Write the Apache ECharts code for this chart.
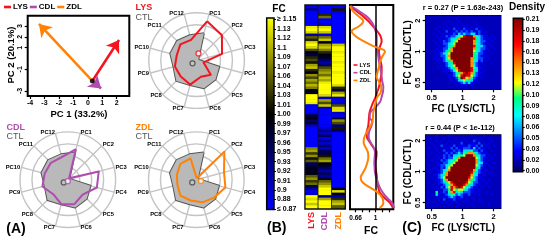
<!DOCTYPE html>
<html><head><meta charset="utf-8">
<style>html,body{margin:0;padding:0;background:#fff}#c{width:550px;height:241px}</style>
<script src="https://cdn.jsdelivr.net/npm/echarts@6/dist/echarts.min.js"></script>
</head><body><div id="c"></div>
<script>
const FONT = '"Liberation Sans", Arial, sans-serif';
const RED = '#f5141e', PURPLE = '#b04cb0', ORANGE = '#ff8205', DARK = '#555555', FILL = '#b9b9b9';

// PCA arrows (PC1, PC2)
const pcaOrigin = [0.31, -2.08];
const pcaLYS = [2.16, 1.71];
const pcaCDL = [0.92, -2.78];
const pcaZDL = [-3.38, 3.2];
const pcaXTicks = [-4, -3, -2, -1, 0, 1, 2];
const pcaYTicks = [3, 2, 1, -1, -3];

// radar values, fraction of the outer ring
const radarNames = ['PC1','PC2','PC3','PC4','PC5','PC6','PC7','PC8','PC9','PC10','PC11','PC12'];
const ctlRadar = [.59,.05,.05,.49,.56,.60,.53,.60,.50,.57,.58,.55];
const lysRadar = [.85,.75,.55,.15,.42,.35,.52,.47,.47,.43,.48,.45];
const cdlRadar = [.66,.04,.67,.63,.44,.53,.53,.43,.55,.50,.50,.49];
const zdlRadar = [.03,.83,.60,.63,.53,.49,.45,.47,.41,.42,.47,.46];
const ctlCentroid = [-.085,-.057];
const lysCentroid = [.04,.15];
const cdlCentroid = [0,-.03];
const zdlCentroid = [.098,-.027];

// fold-change heat map, 80 rows top to bottom
const fcLYS = [.88,.93,.87,.87,.87,.87,.88,.87,1.14,1.15,1.13,.92,1.06,1.03,1.13,1.15,1.13,1.05,1.0,.97,1.03,1.05,1.02,1.1,1.12,1.03,1.0,1.09,1.05,1.1,1.07,1.11,1.08,1.0,.99,1.15,1.15,1.15,1.14,.88,.87,.87,.88,.98,1.0,.95,.98,.9,.87,.87,.87,.87,.87,.87,.87,.87,1.08,1.1,1.04,1.09,1.02,1.06,.96,.98,1.0,.99,1.0,1.06,1.09,1.04,1.07,.97,.93,.88,.9,1.15,1.13,1.15,1.12,1.15];
const fcCDL = [.87,.87,.87,1.03,1.07,.88,.87,.9,1.13,1.15,1.12,.88,1.07,1.12,1.0,1.1,1.12,1.08,1.03,1.0,.99,.95,.92,.95,1.05,1.08,1.1,1.07,1.12,1.1,1.14,1.15,1.15,1.15,1.15,1.13,.9,1.1,1.05,1.12,.9,.87,.87,.87,.87,.87,.87,.87,.9,.93,.9,.96,.88,.93,.89,.95,.9,.96,.97,1.02,1.07,1.1,1.0,.98,.95,.92,.96,.93,.98,1.06,1.09,1.12,1.15,1.15,1.15,.93,1.1,1.15,1.15,1.15];
const fcZDL = [.87,1.02,.89,.87,.87,.87,.87,.87,.87,.87,.87,.87,.87,.87,.87,1.12,1.15,1.15,1.14,1.15,1.15,1.15,1.14,1.15,1.15,1.15,1.14,1.15,1.15,1.15,1.15,1.13,1.03,.97,1.1,1.14,.9,.88,.89,1.05,1.13,1.14,.9,.87,.98,1.09,1.05,.95,1.02,.96,.88,.87,.87,.87,.87,.87,.87,.87,.87,.87,.87,.87,.87,.87,.87,.87,.87,.87,.87,.87,.87,.87,1.0,1.13,1.0,.92,1.03,1.1,1.12,1.06];
const fcTicks = ['≥ 1.15','1.13','1.12','1.1','1.09','1.07','1.06','1.04','1.03','1.01','1.00','0.99','0.97','0.96','0.95','0.93','0.92','0.91','0.9','0.88','≤ 0.87'];

// fold-change curves, log2 FC every 2 rows
const curveRows = [0,2,4,6,8,10,12,14,16,18,20,22,24,26,28,30,32,34,36,38,40,42,44,46,48,50,52,54,56,58,60,62,64,66,68,70,72,74,76,78,80];
const curveLYS = [-.77,-.58,-.38,-.22,-.08,.05,.15,.18,.13,.1,.12,.15,.18,.18,.16,.13,.1,.05,0,-.07,-.13,-.18,-.2,-.21,-.23,-.27,-.26,-.17,-.07,.03,.02,-.02,-.01,.02,.04,.05,.08,.13,.27,.43,.52];
const curveCDL = [-.74,-.5,-.28,-.14,-.05,0,.03,.03,.03,.05,.08,.1,.13,.16,.18,.2,.23,.22,.18,.13,0,-.15,-.18,-.1,-.14,-.2,-.21,-.15,-.06,-.02,-.03,-.04,-.03,-.02,.02,.07,.13,.22,.35,.5,.55];
const curveZDL = [-.77,-.68,-.52,-.37,-.5,-.72,-.6,-.35,-.05,.28,.2,.13,.1,.06,.03,.1,.17,.16,.05,0,-.03,-.07,-.08,-.1,-.18,-.27,-.34,-.36,-.3,-.23,-.22,-.25,-.3,-.38,-.45,-.38,-.15,.08,.2,.23,.12];
const fcAxisTicks = [-.6,-.4,-.2,0,.2,.4];
const fcAxisLabels = {'-0.6':'0.66','0':'1'};

// density scatter maps, level per cell
const densityLevels = [.02,.03,.045,.065,.085,.105,.13,.155,.18,.21];
const densityTicks = ['0.21','0.19','0.18','0.16','0.15','0.13','0.12','0.10','0.09','0.08','0.06','0.05','0.03','0.02','0.00'];
const densityZDL = [
'000000000000000000000000000000',
'000000000000100000000000000000',
'000000000100010000010000000000',
'000000010010101010001000000000',
'000001001001010110100100000000',
'000010010102010211012010000000',
'000001002011202121201210100000',
'000100110112132322331201000000',
'000010102122346899974321101000',
'000001011233579999985321110100',
'000100121234699999975322101000',
'000010122346999999974321010000',
'000001012357999999985332101000',
'000010122479999999975322100100',
'000101123579999999964321010000',
'000011234699999999954221001000',
'000010224799999999953211100000',
'000101124699999999753221010000',
'000010123579999999743120100000',
'000001012358999999732110001000',
'000000102346999999742101000000',
'000001011235799999843110000000',
'000000011124689999853101000000',
'000000001012457898752110000000',
'000000000112468988632100000000',
'000000000101259867421010000000',
'000000000010134645311000000000',
'000000000001012323110100000000',
'000000000000101110100000000000',
'000000000000000000000000000000'];
const densityCDL = [
'000010000100000000100001000000',
'010000010000100100001010010000',
'000010100101001010020100001000',
'001001001010102001110201010000',
'000100210102011112112020100100',
'010010011020211222131211010000',
'000010120112121333422021001000',
'001001012121232457753211100000',
'010010121213345699975322010100',
'000101021224579999996421101000',
'001010212345699999997321010000',
'000011022346999999997431100100',
'010001223469999999996321010000',
'000110213699999999995311001000',
'001011234799999999974210100000',
'010001247999999999853211010000',
'000112357999999999743101001000',
'001012369999999998632110000000',
'000011247999999997532011010000',
'010001235689999986422100100000',
'000101123478999875321101000000',
'001010213687898643211010010000',
'000011022586566432110100000000',
'010050121478343222110100100000',
'001031012354232112010100001000',
'000010111232112010100000000000',
'010001020112011010010100000000',
'000100101010100101000010000000',
'000010000100010000100000010000',
'001000010000100000010000000000'];

const fcRowCats = fcLYS.map((_, i) => String(i));
const denCats = densityZDL.map((_, i) => String(i));

const grids = [], xAxes = [], yAxes = [], series = [];
function gridAdd(l, t, r, b, extra) {
  grids.push(Object.assign({left:l, top:t, width:r-l, height:b-t, show:true, borderColor:'#000', borderWidth:2, backgroundColor:'transparent', containLabel:false}, extra||{}));
  return grids.length-1;
}
const label = (size, extra) => Object.assign({color:'#000', fontFamily:FONT, fontWeight:'bold', fontSize:size, hideOverlap:false}, extra||{});
const noLine = {show:false, onZero:false};
const hidden = (g, o) => Object.assign({gridIndex:g, type:'value', show:false, splitLine:{show:false}, axisLine:noLine, axisTick:{show:false}}, o);
const tickStyle = (vals, len) => ({show:true, customValues:vals, length:len||3, lineStyle:{color:'#000', width:1.2}});

// ---------- PCA
const gPCA = gridAdd(27.7, 15.7, 129.3, 96);
xAxes.push({gridIndex:gPCA, type:'value', position:'bottom', min:-4.16, max:2.87, splitLine:{show:false}, axisLine:noLine,
  axisTick:tickStyle(pcaXTicks), axisLabel:label(7, {customValues:pcaXTicks, margin:4})});
yAxes.push({gridIndex:gPCA, type:'value', position:'left', min:-3.47, max:3.96, splitLine:{show:false}, axisLine:noLine,
  axisTick:tickStyle(pcaYTicks), axisLabel:label(7, {customValues:pcaYTicks, rotate:90, margin:4})});
const pcaX = xAxes.length-1, pcaY = yAxes.length-1;
[['ZDL',pcaZDL,ORANGE,12],['LYS',pcaLYS,RED,12],['CDL',pcaCDL,PURPLE,12]].forEach(([n,p,c,s]) => {
  series.push({type:'lines', name:n, coordinateSystem:'cartesian2d', xAxisIndex:pcaX, yAxisIndex:pcaY, polyline:false,
    symbol:['none','arrow'], symbolSize:s, itemStyle:{color:c}, lineStyle:{color:c, width:2.5, opacity:1, curveness:0},
    data:[{coords:[pcaOrigin, p]}], silent:true, z:3});
});
series.push({type:'scatter', name:'origin', xAxisIndex:pcaX, yAxisIndex:pcaY, data:[pcaOrigin], symbolSize:5, itemStyle:{color:'#000'}, silent:true, z:4});

// ---------- Radars: ECharts lays indicators out counter-clockwise, so PC1 comes first and the rest run backwards
const radarOrder = radarNames.map((_, i) => (12 - i) % 12);
const inOrder = a => radarOrder.map(i => a[i]);
const radarCfg = [
  {c:[196.6,60.6], vals:lysRadar, col:RED, cen:lysCentroid, name:'LYS'},
  {c:[67.8,179.7], vals:cdlRadar, col:PURPLE, cen:cdlCentroid, name:'CDL'},
  {c:[196.3,179.7], vals:zdlRadar, col:ORANGE, cen:zdlCentroid, name:'ZDL'}];
const R = 47.8;
const radars = radarCfg.map(r => ({
  center:r.c, radius:R, startAngle:75, splitNumber:4, shape:'circle', nameGap:1.5,
  indicator:inOrder(radarNames).map(n => ({name:n, min:0, max:1})),
  axisName:{color:'#000', fontFamily:FONT, fontWeight:'bold', fontSize:5.8},
  axisLine:{lineStyle:{color:'#c4c4c4', width:1.4}}, axisTick:{show:false}, axisLabel:{show:false},
  splitLine:{lineStyle:{color:'#c4c4c4', width:1.4}}, splitArea:{show:false}
}));
radarCfg.forEach((r, i) => {
  series.push({type:'radar', name:'CTL', radarIndex:i, symbol:'none', silent:true, z:2,
    lineStyle:{color:DARK, width:2}, areaStyle:{color:FILL, opacity:1}, data:[{value:inOrder(ctlRadar)}]});
  series.push({type:'radar', name:r.name, radarIndex:i, symbol:'none', silent:true, z:3,
    lineStyle:{color:r.col, width:2}, data:[{value:inOrder(r.vals)}]});
  const g = gridAdd(r.c[0]-R, r.c[1]-R, r.c[0]+R, r.c[1]+R, {show:false});
  xAxes.push(hidden(g, {min:-1, max:1})); yAxes.push(hidden(g, {min:-1, max:1}));
  const xi = xAxes.length-1, yi = yAxes.length-1;
  series.push({type:'scatter', name:'CTL centroid', xAxisIndex:xi, yAxisIndex:yi, data:[ctlCentroid], symbolSize:5, silent:true, z:5,
    itemStyle:{color:'#c8c8c8', borderColor:'#444', borderWidth:1.3}});
  series.push({type:'scatter', name:r.name+' centroid', xAxisIndex:xi, yAxisIndex:yi, data:[r.cen], symbolSize:5, silent:true, z:5,
    itemStyle:{color:'#ffffff', borderColor:r.col, borderWidth:1.3}});
});

// ---------- FC colour bar
const gFCbar = gridAdd(266.7, 18, 274, 209.5, {borderWidth:1.5,
  backgroundColor:{type:'linear', x:0, y:0, x2:0, y2:1, colorStops:[{offset:0,color:'#ffff00'},{offset:.5,color:'#000000'},{offset:1,color:'#0000ff'}]}});
const fcIdx = fcTicks.map((_, i) => i);
xAxes.push(hidden(gFCbar, {min:0, max:1}));
yAxes.push({gridIndex:gFCbar, type:'value', inverse:true, position:'right', min:-.16, max:20.05, splitLine:{show:false}, axisLine:noLine,
  axisTick:tickStyle(fcIdx, 2), axisLabel:label(7, {customValues:fcIdx, margin:3, formatter:v => fcTicks[Math.round(v)]})});

// ---------- FC heat map
gridAdd(305, 5, 345.3, 209, {backgroundColor:'#111', borderColor:'#111', borderWidth:1.5});
xAxes.push(hidden(grids.length-1, {min:0, max:1})); yAxes.push(hidden(grids.length-1, {min:0, max:1}));
const heatSeries = [];
[[305.9,317.3,fcLYS,'LYS',RED],[318.7,330.9,fcCDL,'CDL',PURPLE],[332.2,344.4,fcZDL,'ZDL',ORANGE]].forEach(([l,r,v,n,c]) => {
  const g = gridAdd(l, 6, r, 208, {show:false});
  xAxes.push({gridIndex:g, type:'category', data:[n], axisLine:noLine, axisTick:{show:false}, splitLine:{show:false},
    axisLabel:{color:c, fontFamily:FONT, fontWeight:'bold', fontSize:9, rotate:90, margin:4}});
  yAxes.push({gridIndex:g, type:'category', data:fcRowCats, inverse:true, show:false});
  series.push({type:'heatmap', name:n+' FC', xAxisIndex:xAxes.length-1, yAxisIndex:yAxes.length-1, silent:true, z:2,
    data:v.map((x, i) => [0, i, x])});
  heatSeries.push(series.length-1);
});

// ---------- FC curves
const gCurve = gridAdd(350, 5, 393.3, 209.3);
xAxes.push({gridIndex:gCurve, type:'value', position:'bottom', min:-.77, max:.53, splitLine:{show:false}, axisLine:noLine,
  axisTick:tickStyle(fcAxisTicks), axisLabel:label(6.5, {customValues:[-.6,0], margin:5, formatter:v => fcAxisLabels[String(v)] || ''})});
yAxes.push(hidden(gCurve, {inverse:true, min:-.4, max:80.5}));
const cx = xAxes.length-1, cy = yAxes.length-1;
[['LYS',curveLYS,RED],['CDL',curveCDL,PURPLE],['ZDL',curveZDL,ORANGE]].forEach(([n,v,c], i) => {
  const s = {type:'line', name:n, xAxisIndex:cx, yAxisIndex:cy, smooth:.4, showSymbol:false, symbol:'none', silent:true, z:3+i,
    lineStyle:{color:c, width:2}, itemStyle:{color:c}, data:v.map((x, k) => [x, curveRows[k]])};
  if (i === 0) s.markLine = {silent:true, symbol:'none', label:{show:false}, data:[{xAxis:0}], lineStyle:{color:'#000', width:1.5, type:'solid'}, animation:false};
  series.push(s);
});

// ---------- Density maps
const densSeries = [];
function densityPanel(rows, t, b, zero, yName) {
  const g = gridAdd(425.7, t, 500.7, b, {borderWidth:1.5, backgroundColor:'#0000c0'});
  const topV = (zero-t)/31, botV = (zero-b)/31;
  const lab = {'-1':'0.5','0':'1','1':'2'};
  xAxes.push({gridIndex:g, type:'category', data:denCats, show:false});
  yAxes.push({gridIndex:g, type:'category', data:denCats, inverse:true, show:false});
  series.push({type:'heatmap', name:'density', xAxisIndex:xAxes.length-1, yAxisIndex:yAxes.length-1, silent:true, z:2,
    data:rows.flatMap((s, r) => [...s].map((ch, c) => [c, r, densityLevels[+ch]]))});
  densSeries.push(series.length-1);
  xAxes.push({gridIndex:g, type:'value', position:'bottom', min:-37/31, max:38/31, splitLine:{show:false}, axisLine:noLine,
    axisTick:tickStyle([-1,0,1]), axisLabel:label(7.5, {customValues:[-1,0,1], margin:5, formatter:v => lab[String(v)]}),
    name:'FC (LYS/CTL)', nameLocation:'middle', nameGap:14.5, nameTextStyle:label(10)});
  yAxes.push({gridIndex:g, type:'value', position:'left', min:botV, max:topV, splitLine:{show:false}, axisLine:noLine,
    axisTick:tickStyle([-1,0,1]), axisLabel:label(7.5, {customValues:[-1,0,1], rotate:90, margin:4, formatter:v => lab[String(v)]}),
    name:yName, nameLocation:'middle', nameGap:12.5, nameRotate:90, nameTextStyle:label(10)});
}
densityPanel(densityZDL, 15.7, 89.3, 51.7, 'FC (ZDL/CTL)');
densityPanel(densityCDL, 135, 208.3, 171.7, 'FC (CDL/CTL)');

// ---------- Density colour bar
const gDen = gridAdd(513.3, 18.3, 522.7, 171.7, {borderWidth:1.5,
  backgroundColor:{type:'linear', x:0, y:0, x2:0, y2:1, colorStops:[
    {offset:0,color:'#800000'},{offset:.17,color:'#ff0000'},{offset:.42,color:'#ffff00'},{offset:.52,color:'#00ff80'},
    {offset:.63,color:'#00ffff'},{offset:.86,color:'#0000ff'},{offset:1,color:'#000060'}]}});
const denIdx = densityTicks.map((_, i) => i);
xAxes.push(hidden(gDen, {min:0, max:1}));
yAxes.push({gridIndex:gDen, type:'value', inverse:true, position:'right', min:-.09, max:14.1, splitLine:{show:false}, axisLine:noLine,
  axisTick:tickStyle(denIdx, 2), axisLabel:label(7, {customValues:denIdx, margin:3, formatter:v => densityTicks[Math.round(v)]})});

// ---------- text
const txt = (text, x, y, size, fill, opt) => Object.assign({type:'text', x, y, silent:true, z:20,
  style:{text, fill:fill||'#000', font:`${(opt&&opt.weight)||'bold'} ${size}px ${FONT}`, align:(opt&&opt.align)||'center', verticalAlign:'middle'}},
  opt&&opt.rotation!==undefined?{rotation:opt.rotation}:{});
const graphic = [
  txt('PC 1 (33.2%)', 79, 114, 9.5),
  txt('PC 2 (20.1%)', 11, 55, 9.5, '#000', {rotation:Math.PI/2}),
  txt('LYS', 135.5, 8, 9, RED, {align:'left'}), txt('CTL', 135.5, 17.5, 9, DARK, {align:'left', weight:'normal'}),
  txt('CDL', 6.5, 127.5, 9, PURPLE, {align:'left'}), txt('CTL', 6.5, 136.7, 9, DARK, {align:'left', weight:'normal'}),
  txt('ZDL', 135.5, 127.5, 9, ORANGE, {align:'left'}), txt('CTL', 135.5, 136.7, 9, DARK, {align:'left', weight:'normal'}),
  txt('(A)', 16, 229, 14), txt('(B)', 276.7, 228, 14), txt('(C)', 412, 228, 14),
  txt('FC', 279, 9, 10), txt('FC', 371, 231.5, 10.5),
  txt('r = 0.27 (P = 1.63e-243)', 463, 8, 7.5),
  txt('r = 0.44 (P < 1e-112)', 460, 127.5, 7.5),
  txt('Density', 527, 7.5, 10)
];

const legendData = () => [['LYS',RED],['CDL',PURPLE],['ZDL',ORANGE]].map(([n,c]) => ({name:n, icon:'rect', itemStyle:{color:c, borderWidth:0}, lineStyle:{opacity:0}}));

const chart = echarts.init(document.getElementById('c'), null, {renderer:'canvas'});
chart.setOption({
  animation:false, backgroundColor:'#fff',
  grid:grids, xAxis:xAxes, yAxis:yAxes, radar:radars, series, graphic,
  visualMap:[
    {type:'continuous', show:false, min:.87, max:1.15, seriesIndex:heatSeries, inRange:{color:['#0000ff','#000000','#ffff00']}},
    {type:'continuous', show:false, min:0, max:.21, seriesIndex:densSeries, inRange:{color:['#000060','#0000ff','#00ffff','#00ff80','#ffff00','#ff0000','#800000']}}
  ],
  legend:[
    {left:4, top:3, orient:'horizontal', itemWidth:7, itemHeight:2.6, itemGap:2, selectedMode:false, padding:0,
     data:legendData(), textStyle:label(8, {padding:[0,0,0,-3]})},
    {left:353.5, top:62, orient:'vertical', itemWidth:4, itemHeight:1.6, itemGap:1.7, selectedMode:false, padding:0,
     data:legendData(), textStyle:label(5.8, {padding:[0,0,0,-3]})}
  ]
});
</script></body></html>
